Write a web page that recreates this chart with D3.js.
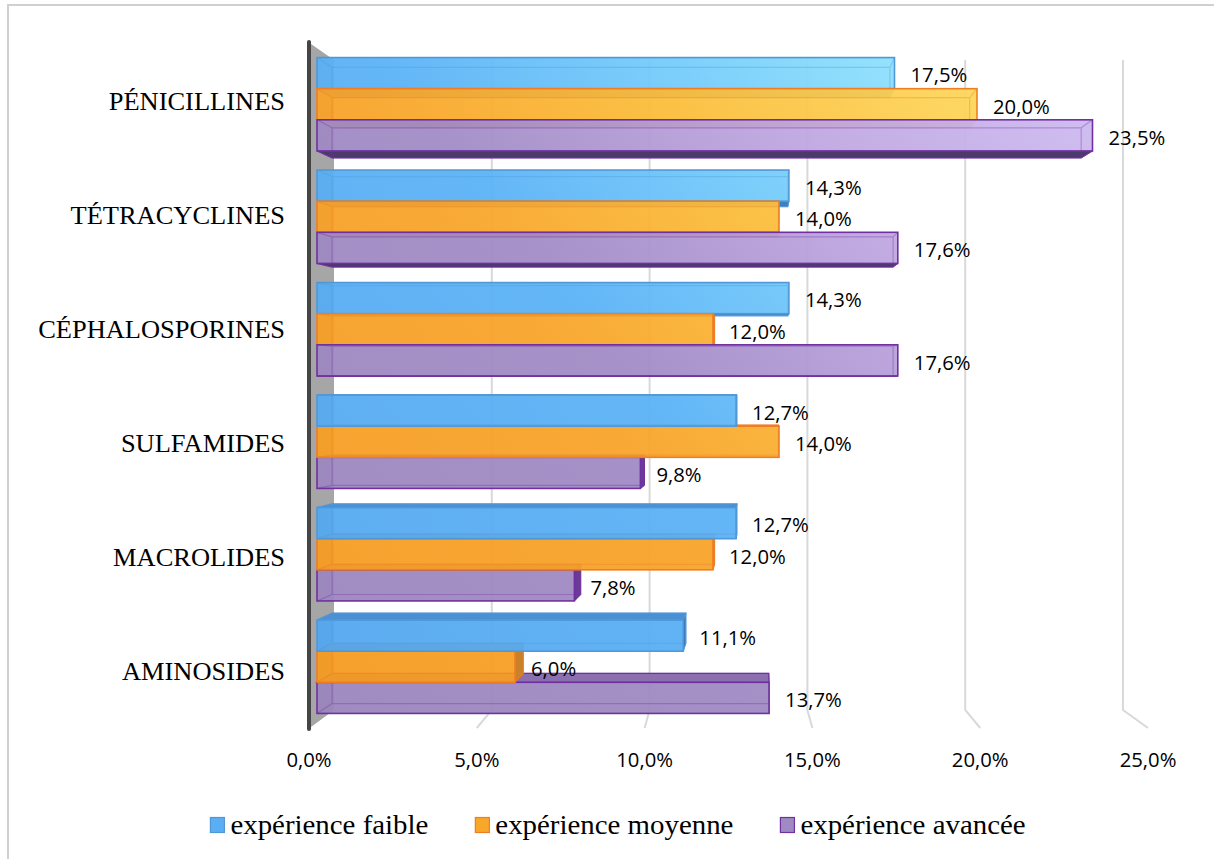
<!DOCTYPE html>
<html><head><meta charset="utf-8">
<script src="https://cdn.jsdelivr.net/npm/d3@7"></script>
<style>body{margin:0;background:#fff}svg{display:block}</style>
</head><body><svg id="c" width="1214" height="859"></svg>
<script>
const categories = ["PÉNICILLINES","TÉTRACYCLINES","CÉPHALOSPORINES","SULFAMIDES","MACROLIDES","AMINOSIDES"];
const seriesNames = ["expérience faible","expérience moyenne","expérience avancée"];
const faible  = [17.5,14.3,14.3,12.7,12.7,11.1];
const moyenne = [20.0,14.0,12.0,14.0,12.0,6.0];
const avancee = [23.5,17.6,17.6,9.8,7.8,13.7];
const tickValues = [0,5,10,15,20,25];

const seriesValues = [faible, moyenne, avancee];
const seriesStyle = [
  {stroke:"#4f98d8", side:"#3f7fc0", top:"#4b90d4", end:"#3a78b8", legend:"#5aaef3",
   stops:[[0,"#52a5ef"],[0.45,"#5ab2f6"],[0.68,"#76cdfb"],[0.86,"#90e2fc"],[1,"#a2effd"]]},
  {stroke:"#ef7d22", side:"#d98a1e", top:"#e2921f", end:"#c98028", legend:"#f9a72b",
   stops:[[0,"#f59a20"],[0.4,"#f8a329"],[0.65,"#fbbe3c"],[0.88,"#fdd55a"],[1,"#fee067"]]},
  {stroke:"#7030a0", side:"#4d3a6c", top:"#8a70ae", end:"#6a3a98", legend:"#a08ac4",
   stops:[[0,"#9a85bc"],[0.45,"#a18bc5"],[0.72,"#bea6e0"],[0.95,"#cdb9ef"],[1,"#d2bff2"]]}
];

const svg = d3.select("#c");
const fmt = v => d3.format(".1f")(v).replace(".", ",") + "%";

// scales
const x = d3.scaleLinear().domain([0,25]).range([317,1142]);       // bar front faces
const xBack = d3.scaleLinear().domain([0,25]).range([334,1123]);   // back wall
const xFront = d3.scaleLinear().domain([0,25]).range([309,1148]);  // floor front edge
const y0 = d3.scaleBand().domain(categories).range([48,723]).paddingInner(0.17).paddingOuter(0.085);
const y1 = d3.scaleBand().domain([0,1,2]).range([0,y0.bandwidth()]);
const yLab = d3.scalePoint().domain(categories).range([102,672]);

// perspective
const VX = 760, VY = 386, DX = 0.034, DY = 0.03;
const bx = px => px + (VX - px) * DX;
const by = py => py + (VY - py) * DY;

// gradients
const defs = svg.append("defs");
seriesStyle.forEach((s,i) => {
  const g = defs.append("linearGradient").attr("id","g"+i)
    .attr("gradientUnits","userSpaceOnUse")
    .attr("x1",317).attr("y1",700).attr("x2",1100).attr("y2",60);
  s.stops.forEach(st => g.append("stop").attr("offset",st[0]).attr("stop-color",st[1]));
});

// border
svg.append("rect").attr("x",8).attr("y",5).attr("width",1400).attr("height",1000)
  .attr("fill","none").attr("stroke","#d0d0d0").attr("stroke-width",2);

// gridlines (back wall + floor)
svg.append("g").selectAll("path").data(tickValues.filter(v=>v>0)).join("path")
  .attr("d", v => `M${xBack(v)},60V710L${xFront(v)},728`)
  .attr("fill","none").attr("stroke","#d9d9d9").attr("stroke-width",2);

// left wall
svg.append("path")
  .attr("d", `M${xFront(0)+2},44L${xBack(0)},60V710L${xFront(0)+2},727Z`)
  .attr("fill","#a6a6a6");
svg.append("path").attr("d", `M${xFront(0)},42V729`)
  .attr("stroke","#454545").attr("stroke-width",4).attr("stroke-linecap","round");

// bars
const barsG = svg.append("g");
categories.forEach((cat,i) => {
  const yc = y0(cat) + y0.bandwidth()/2;
  const above = yc < VY;
  const order = above ? [0,1,2] : [2,1,0];
  order.forEach(j => {
    const v = seriesValues[j][i];
    const s = seriesStyle[j];
    const yT = y0(cat) + y1(j), yB = yT + y1.bandwidth();
    const x0 = x(0), x1 = x(v);
    const g = barsG.append("g");
    if (above) {
      g.append("path").attr("d",`M${x0},${yB}L${x1},${yB}L${bx(x1)},${by(yB)}L${bx(x0)},${by(yB)}Z`)
        .attr("fill",s.side).attr("stroke",s.stroke).attr("stroke-width",1);
    } else {
      g.append("path").attr("d",`M${x0},${yT}L${x1},${yT}L${bx(x1)},${by(yT)}L${bx(x0)},${by(yT)}Z`)
        .attr("fill",s.top).attr("stroke",s.stroke).attr("stroke-width",1.2);
    }
    if (x1 < VX) {
      g.append("path").attr("d",`M${x1},${yT}L${x1},${yB}L${bx(x1)},${by(yB)}L${bx(x1)},${by(yT)}Z`)
        .attr("fill",s.end).attr("stroke",s.stroke).attr("stroke-width",1);
    }
    g.append("rect").attr("x",x0).attr("y",yT).attr("width",x1-x0).attr("height",yB-yT)
      .attr("fill",`url(#g${j})`).attr("fill-opacity",0.94);
    g.append("path")
      .attr("d",`M${bx(x0)},${by(yT)}H${bx(x1)}V${by(yB)}H${bx(x0)}Z` +
        `M${x0},${yT}L${bx(x0)},${by(yT)}M${x0},${yB}L${bx(x0)},${by(yB)}` +
        `M${x1},${yT}L${bx(x1)},${by(yT)}M${x1},${yB}L${bx(x1)},${by(yB)}`)
      .attr("fill","none").attr("stroke",s.stroke).attr("stroke-opacity",0.35).attr("stroke-width",1.2);
    g.append("rect").attr("x",x0).attr("y",yT).attr("width",x1-x0).attr("height",yB-yT)
      .attr("fill","none").attr("stroke",s.stroke).attr("stroke-width",1.6);
  });
});

// value labels
const labG = svg.append("g").attr("font-family","'Open Sans', sans-serif").attr("font-size",19.5).attr("fill","#000");
categories.forEach((cat,i) => {
  seriesValues.forEach((vals,j) => {
    const v = vals[i];
    const yT = y0(cat) + y1(j);
    labG.append("text")
      .attr("transform",`translate(${x(v)+16},${yT + y1.bandwidth()/2 + 2}) scale(1.04,1)`)
      .attr("dominant-baseline","central")
      .text(fmt(v));
  });
});

// category labels
svg.append("g").attr("font-family","'Liberation Serif', 'Times New Roman', serif").attr("font-size",24.5)
  .selectAll("text").data(categories).join("text")
  .attr("transform", d => `translate(285,${yLab(d)}) scale(1.08,1)`)
  .attr("text-anchor","end").attr("dominant-baseline","central")
  .text(d => d);

// x axis tick labels
svg.append("g").attr("font-family","'Open Sans', sans-serif").attr("font-size",19.5)
  .selectAll("text").data(tickValues).join("text")
  .attr("transform", v => `translate(${xFront(v)},760) scale(1.04,1)`)
  .attr("text-anchor","middle").attr("dominant-baseline","central")
  .text(v => fmt(v));

// legend
const leg = svg.append("g").attr("font-family","'Liberation Serif', 'Times New Roman', serif").attr("font-size",26.5);
const items = seriesNames.map((n,j) => {
  const it = leg.append("g");
  it.append("rect").attr("x",0).attr("y",-7.5).attr("width",14).attr("height",15)
    .attr("fill",seriesStyle[j].legend).attr("stroke",seriesStyle[j].stroke).attr("stroke-width",1.2);
  const t = it.append("text").attr("transform","translate(20,0) scale(1.09,1)")
    .attr("dominant-baseline","central").text(n);
  return {it, w: 20 + t.node().getComputedTextLength()*1.09};
});
const gap = 47;
const total = d3.sum(items, d=>d.w) + gap*(items.length-1);
let cx = 618 - total/2;
items.forEach(d => { d.it.attr("transform",`translate(${cx},825)`); cx += d.w + gap; });
</script>
</body></html>
